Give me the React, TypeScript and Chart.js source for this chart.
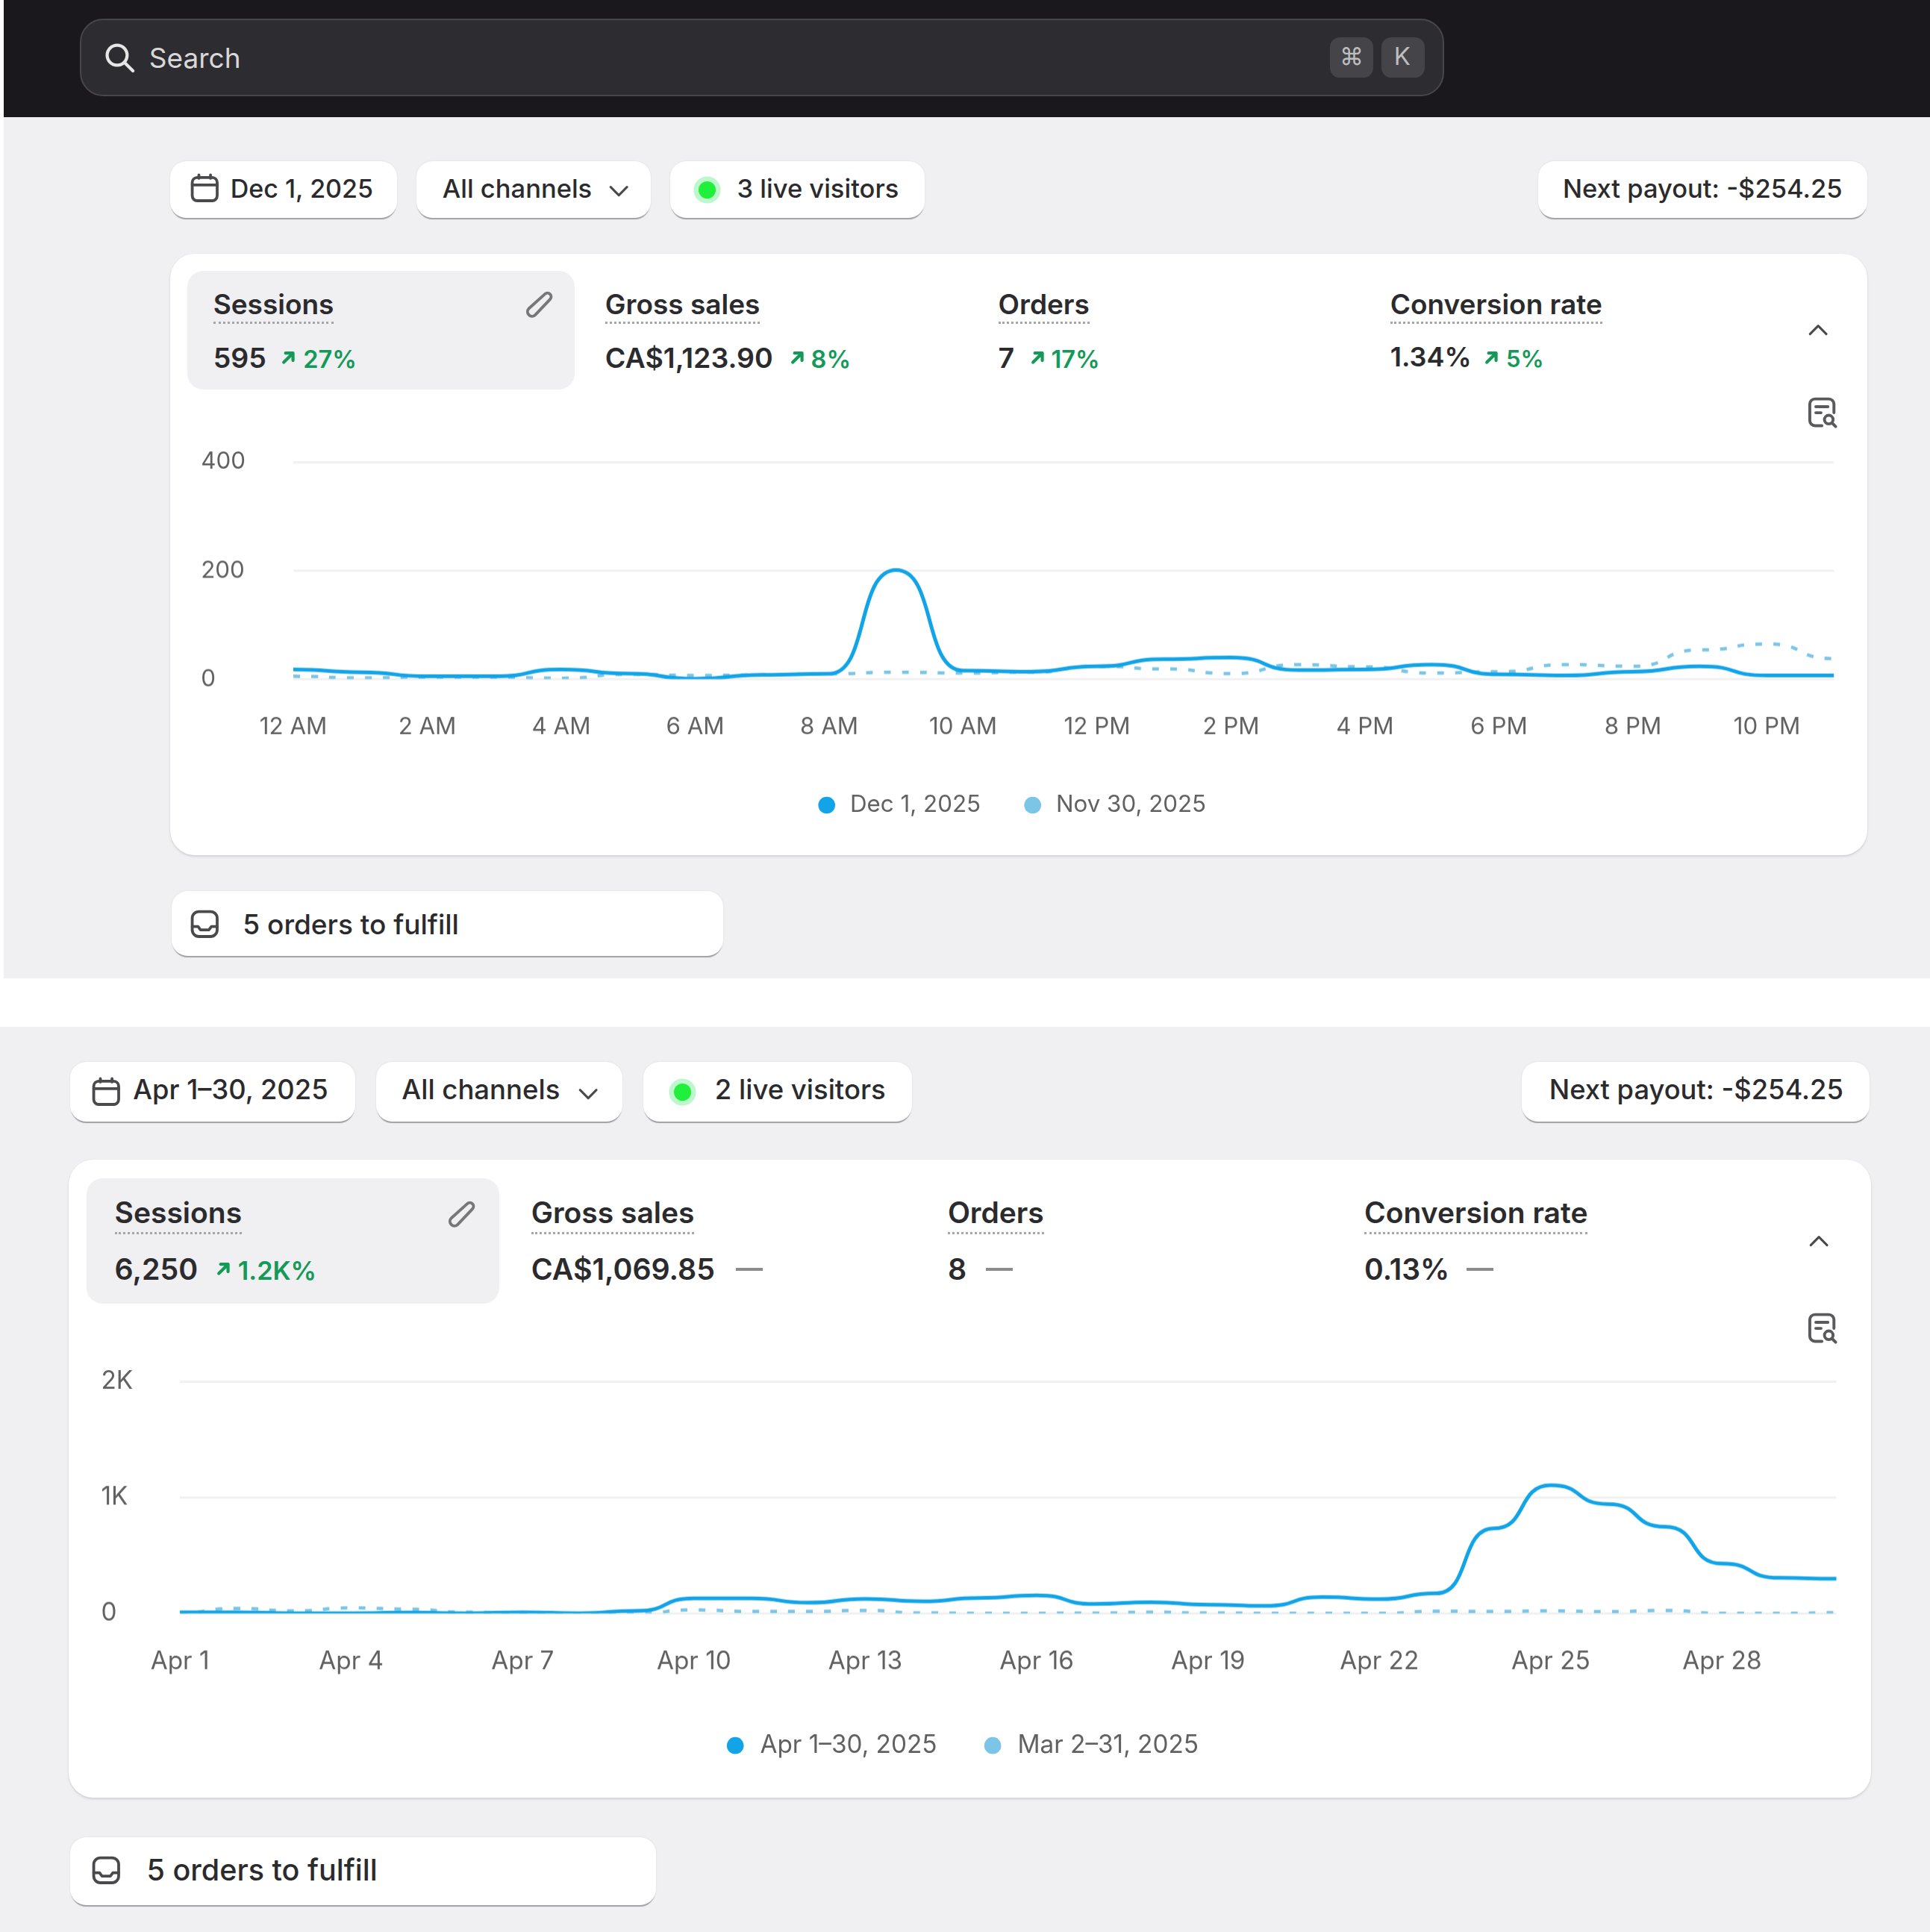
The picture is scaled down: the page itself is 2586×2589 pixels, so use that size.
import { useEffect, useRef } from "react";
import { Chart, registerables } from "chart.js";

Chart.register(...registerables);

// reference was read at 1566px wide, everything below is in those units
const S = 2586 / 1566;
const u = (n: number) => n * S;

const FONT = "Inter, sans-serif";
const BLUE = "#12a4e6";
const LIGHT_BLUE = "#7cc5e6";
const GREEN = "#149a58";
const INK = "#2b2b2e";

const hourLabels = ["12 AM", "1 AM", "2 AM", "3 AM", "4 AM", "5 AM", "6 AM", "7 AM", "8 AM", "9 AM", "10 AM", "11 AM", "12 PM", "1 PM", "2 PM", "3 PM", "4 PM", "5 PM", "6 PM", "7 PM", "8 PM", "9 PM", "10 PM", "11 PM"];
const dec1Sessions = [18, 13, 5.5, 5.5, 18, 10.5, 1, 8, 10, 201, 16, 14, 24, 37, 40, 17, 18, 27, 9, 7, 14, 24, 7, 7];
const nov30Sessions = [5.5, 2.5, 4, 4, 2, 9, 7, 8, 10, 13, 11.5, 13, 24, 19, 10.5, 27, 23, 11.5, 14, 27, 24, 54, 65, 38];

const dayLabels = ["Apr 1", "Apr 2", "Apr 3", "Apr 4", "Apr 5", "Apr 6", "Apr 7", "Apr 8", "Apr 9", "Apr 10", "Apr 11", "Apr 12", "Apr 13", "Apr 14", "Apr 15", "Apr 16", "Apr 17", "Apr 18", "Apr 19", "Apr 20", "Apr 21", "Apr 22", "Apr 23", "Apr 24", "Apr 25", "Apr 26", "Apr 27", "Apr 28", "Apr 29", "Apr 30"];
const aprSessions = [10, 10, 2, 2, 7, 2, 9, 2, 22, 130, 130, 93, 126, 104, 134, 156, 82, 97, 76, 65, 141, 123, 173, 732, 1104, 942, 747, 429, 307, 299];
const marSessions = [8, 43, 22, 48, 37, 11, 3, 1, 0, 30, 17, 17, 26, 4, 2, 2, 3, 11, 4, 2, 1, 1, 19, 17, 22, 15, 26, 1, 1, 6];

// the lines in the reference sit flat on every data point, so level the bezier handles
const flatCurve = {
  id: "flatCurve",
  beforeDatasetDraw(chart: Chart, args: any) {
    const line = args.meta.dataset;
    line.updateControlPoints(chart.chartArea);
    const pts = line.points;
    pts.forEach((pt: any) => {
      const step = (pts[1].x - pts[0].x) * 0.6;
      pt.cp1x = pt.x - step;
      pt.cp2x = pt.x + step;
      pt.cp1y = pt.y;
      pt.cp2y = pt.y;
    });
  },
};

type ChartProps = {
  labels: string[];
  current: number[];
  previous: number[];
  names: [string, string];
  yMax: number;
  yStep: number;
  yFormat: (v: number) => string;
  every: number;
  fontSize: number;
  innerLeft: number;
  innerRight: number;
  plotLeft: number;
  yLabelX: number;
  gridTop: number;
  gridBottom: number;
  xLabelY: number;
  legendY: number;
  legendGap: number;
};

function SessionsChart(p: ChartProps) {
  const canvasRef = useRef<HTMLCanvasElement>(null);
  const side = 8;
  const top = 24;
  const { fontSize } = p;
  const legendTop = u(p.legendY) - p.legendGap - fontSize / 2;
  const canvasTop = u(p.gridTop) - top;
  // chart.js legend height is item + padding + 10
  const canvasBottom = legendTop + p.legendGap + fontSize + 10;

  useEffect(() => {
    if (!canvasRef.current) return;
    const tickFont = { family: FONT, size: fontSize };
    const chart = new Chart(canvasRef.current, {
      type: "line",
      plugins: [flatCurve],
      data: {
        labels: p.labels,
        datasets: [
          {
            label: p.names[0],
            data: p.current,
            borderColor: BLUE,
            backgroundColor: BLUE,
            borderWidth: 5,
            pointRadius: 0,
            cubicInterpolationMode: "monotone",
          },
          {
            label: p.names[1],
            data: p.previous,
            borderColor: LIGHT_BLUE,
            backgroundColor: LIGHT_BLUE,
            borderWidth: 4.5,
            borderDash: [9, 15],
            pointRadius: 0,
            cubicInterpolationMode: "monotone",
          },
        ],
      },
      options: {
        animation: false,
        responsive: true,
        maintainAspectRatio: false,
        layout: { padding: { left: side, right: side, top, bottom: 0 } },
        plugins: {
          tooltip: { enabled: false },
          legend: {
            position: "bottom",
            labels: {
              usePointStyle: true,
              pointStyle: "circle",
              boxWidth: fontSize,
              boxHeight: 16,
              padding: p.legendGap,
              color: "#616161",
              font: tickFont,
              generateLabels: (c: Chart) =>
                Chart.defaults.plugins.legend.labels
                  .generateLabels(c)
                  .map((item) => ({ ...item, lineWidth: 0, lineDash: [] })),
            },
          },
        },
        scales: {
          x: {
            grid: { display: false, drawTicks: false },
            border: { display: false },
            ticks: {
              autoSkip: false,
              maxRotation: 0,
              minRotation: 0,
              padding: u(p.xLabelY) - u(p.gridBottom) - fontSize / 2,
              color: "#616161",
              font: tickFont,
              callback: (_v, i) => (i % p.every === 0 ? p.labels[i] : null),
            },
            afterFit: (scale) => {
              scale.height = legendTop - u(p.gridBottom);
              scale.paddingRight = 0;
              scale.paddingLeft = 0;
            },
          },
          y: {
            min: 0,
            max: p.yMax,
            grid: { color: "#f1f1f2", lineWidth: 3, drawTicks: false },
            border: { display: false },
            ticks: {
              stepSize: p.yStep,
              mirror: true,
              crossAlign: "near",
              padding: u(p.yLabelX) - u(p.plotLeft),
              color: "#616161",
              font: tickFont,
              callback: (v) => p.yFormat(Number(v)),
            },
            afterFit: (scale) => {
              scale.width = u(p.plotLeft) - u(p.innerLeft);
            },
          },
        },
      },
    });
    return () => chart.destroy();
  }, []);

  return (
    <div
      style={{
        position: "absolute",
        left: u(p.innerLeft) - side,
        top: canvasTop,
        width: u(p.innerRight) - u(p.innerLeft) + side * 2,
        height: canvasBottom - canvasTop,
      }}
    >
      <canvas ref={canvasRef} />
    </div>
  );
}

function Box({ x, y, w, h, style, children }: any) {
  return (
    <div style={{ position: "absolute", left: u(x), top: u(y), width: u(w), height: u(h), ...style }}>{children}</div>
  );
}

function Text({ x, cy, size, weight = 400, color = INK, children, style }: any) {
  return (
    <div
      style={{
        position: "absolute",
        left: u(x),
        top: u(cy),
        transform: "translateY(-50%)",
        fontFamily: FONT,
        fontSize: size,
        fontWeight: weight,
        color,
        whiteSpace: "nowrap",
        lineHeight: 1.2,
        ...style,
      }}
    >
      {children}
    </div>
  );
}

function Icon({ cx, cy, size = 24, color = "#4a4a4d", width = 1.7, children }: any) {
  const s = u(size);
  return (
    <svg
      viewBox="0 0 20 20"
      width={s}
      height={s}
      style={{ position: "absolute", left: u(cx) - s / 2, top: u(cy) - s / 2 }}
      fill="none"
      stroke={color}
      strokeWidth={width}
      strokeLinecap="round"
      strokeLinejoin="round"
    >
      {children}
    </svg>
  );
}

const Calendar = (p: any) => (
  <Icon size={27} {...p}>
    <rect x="2.5" y="3.5" width="15" height="14" rx="3" />
    <path d="M2.5 8h15M6.5 2v2M13.5 2v2" />
  </Icon>
);
const Chevron = ({ up, ...p }: any) => (
  <Icon {...p}>
    <path d={up ? "M4 13l6-6 6 6" : "M4 7l6 6 6-6"} />
  </Icon>
);
const Pencil = (p: any) => (
  <Icon color="#77777a" size={28} {...p}>
    <path d="M13 3.5a2 2 0 0 1 3 3L7.5 15.5a2.6 2.6 0 0 1-3.8-3.6z" />
  </Icon>
);
const Inbox = (p: any) => (
  <Icon size={27} {...p}>
    <rect x="2.5" y="2.5" width="15" height="15" rx="4" />
    <path d="M2.5 11.5h3.5l1.5 2h5l1.5-2h3.5" />
  </Icon>
);
const Analyze = (p: any) => (
  <Icon color="#5a5a5d" {...p}>
    <path d="M10 17.5H6a3 3 0 0 1-3-3V5a3 3 0 0 1 3-3h8a3 3 0 0 1 3 3v5" />
    <path d="M6.5 6.5h7M6.5 10h3" />
    <circle cx="14" cy="14" r="2.5" />
    <path d="M16 16l2 2" />
  </Icon>
);
const Arrow = (p: any) => (
  <Icon size={15} color={GREEN} width={3.4} {...p}>
    <path d="M5 15L15 5M7 5h8v8" />
  </Icon>
);

const pillStyle = {
  background: "#fff",
  borderRadius: u(13),
  boxShadow: "0 3px 1px -1px #a2a1a5, 0 0 3px rgba(0,0,0,0.08)",
};

function Pill({ x, y, w, h }: any) {
  return <Box x={x} y={y} w={w} h={h} style={pillStyle} />;
}

function LiveDot({ cx, cy }: any) {
  return (
    <Box
      x={cx - 7}
      y={cy - 7}
      w={14}
      h={14}
      style={{ background: "#1ff03c", borderRadius: "50%", boxShadow: `0 0 0 ${u(4)}px #bdf8cd` }}
    />
  );
}

function Metric({ x, labelY, valueY, lineY, label, value, size, valueSize, trend, arrowX, trendX, dash }: any) {
  return (
    <>
      <Text x={x} cy={labelY} size={size} weight={600}>
        {label}
      </Text>
      <Box
        x={x}
        y={lineY}
        w={0}
        h={0}
        style={{
          width: "auto",
          height: 0,
          borderTop: "3px dotted #a6a6a8",
          color: "transparent",
          fontFamily: FONT,
          fontSize: size,
          fontWeight: 600,
          lineHeight: 0,
          whiteSpace: "nowrap",
          overflow: "hidden",
        }}
      >
        {label}
      </Box>
      <Text x={x} cy={valueY} size={valueSize} weight={600}>
        {value}
      </Text>
      {trend && (
        <>
          <Arrow cx={arrowX} cy={valueY} />
          <Text x={trendX} cy={valueY + 1} size={valueSize - 5} weight={600} color={GREEN}>
            {trend}
          </Text>
        </>
      )}
      {dash && <Box x={dash} y={valueY - 1} w={22} h={2.5} style={{ background: "#8c8c8e" }} />}
    </>
  );
}

const cardStyle = {
  background: "#fff",
  borderRadius: u(20),
  boxShadow: "0 2px 3px rgba(0,0,0,0.12), 0 0 2px rgba(0,0,0,0.06)",
};

export default function App() {
  return (
    <div style={{ position: "absolute", left: 0, top: 0, width: 2586, height: 2589, background: "#fff", overflow: "hidden" }}>
      {/* first screenshot */}
      <Box x={3} y={95} w={1565} h={699} style={{ background: "#f0eff2" }} />
      <Box x={3} y={0} w={1565} h={95} style={{ background: "#1a181c" }} />
      <Box x={65} y={15} w={1107} h={63} style={{ background: "#2d2c30", border: "2px solid #47464b", borderRadius: u(19), boxSizing: "border-box" }} />
      <Icon cx={97} cy={47} size={27} color="#e6e6e6" width={1.9}>
        <circle cx="8.5" cy="8.5" r="6" />
        <path d="M13 13l5 5" />
      </Icon>
      <Text x={121} cy={47} size={37} color="#d8d8d8">Search</Text>
      <Box x={1079} y={30} w={35} h={33} style={{ background: "#454449", borderRadius: u(8) }} />
      <Box x={1121} y={30} w={35} h={33} style={{ background: "#454449", borderRadius: u(8) }} />
      <Text x={1087} cy={46} size={32} color="#bdbdbd">⌘</Text>
      <Text x={1131} cy={46} size={33} color="#bdbdbd">K</Text>

      <Pill x={138} y={131} w={184} h={46} />
      <Pill x={338} y={131} w={190} h={46} />
      <Pill x={544} y={131} w={206} h={46} />
      <Pill x={1248} y={131} w={267} h={46} />
      <Calendar cx={166} cy={153} />
      <Text x={187} cy={153} size={34} weight={500}>Dec 1, 2025</Text>
      <Text x={359} cy={153} size={34.5} weight={500}>All channels</Text>
      <Chevron cx={502} cy={155} size={22} />
      <LiveDot cx={574} cy={154} />
      <Text x={598} cy={153} size={34.5} weight={500}>3 live visitors</Text>
      <Text x={1268} cy={153} size={34.5} weight={500}>Next payout: -$254.25</Text>

      <Box x={138} y={206} w={1377} h={488} style={cardStyle} />
      <Box x={152} y={220} w={314} h={96} style={{ background: "#f0eff2", borderRadius: u(13) }} />
      <Pencil cx={438} cy={248} />
      <Metric x={173} labelY={247} lineY={261} valueY={290} size={37} valueSize={37.5} label="Sessions" value="595" trend="27%" arrowX={234} trendX={246} />
      <Metric x={491} labelY={247} lineY={261} valueY={290} size={37} valueSize={37.5} label="Gross sales" value="CA$1,123.90" trend="8%" arrowX={647} trendX={658} />
      <Metric x={810} labelY={247} lineY={261} valueY={290} size={37} valueSize={37.5} label="Orders" value="7" trend="17%" arrowX={842} trendX={853} />
      <Metric x={1128} labelY={247} lineY={261} valueY={290} size={37} valueSize={36} label="Conversion rate" value="1.34%" trend="5%" arrowX={1210} trendX={1222} />
      <Chevron up cx={1475} cy={268} size={22} />
      <Analyze cx={1478} cy={335} size={28} />

      <SessionsChart
        labels={hourLabels}
        current={dec1Sessions}
        previous={nov30Sessions}
        names={["Dec 1, 2025", "Nov 30, 2025"]}
        yMax={400}
        yStep={200}
        yFormat={(v) => String(v)}
        every={2}
        fontSize={31.3}
        innerLeft={152}
        innerRight={1488}
        plotLeft={238}
        yLabelX={163}
        gridTop={375}
        gridBottom={551}
        xLabelY={588}
        legendY={653}
        legendGap={54}
      />

      <Box x={139} y={723} w={448} h={53} style={pillStyle} />
      <Inbox cx={166} cy={750} />
      <Text x={197} cy={750} size={37} weight={500}>5 orders to fulfill</Text>

      {/* second screenshot */}
      <Box x={0} y={833} w={1568} h={735} style={{ background: "#f0eff2" }} />
      <Pill x={57} y={862} w={231} h={48} />
      <Pill x={305} y={862} w={200} h={48} />
      <Pill x={522} y={862} w={218} h={48} />
      <Pill x={1235} y={862} w={282} h={48} />
      <Calendar cx={86} cy={886} />
      <Text x={108} cy={885} size={36.3} weight={500}>Apr 1–30, 2025</Text>
      <Text x={326} cy={885} size={36.5} weight={500}>All channels</Text>
      <Chevron cx={477} cy={888} size={22} />
      <LiveDot cx={554} cy={886} />
      <Text x={580} cy={885} size={36.5} weight={500}>2 live visitors</Text>
      <Text x={1257} cy={885} size={36.3} weight={500}>Next payout: -$254.25</Text>

      <Box x={56} y={941} w={1462} h={518} style={cardStyle} />
      <Box x={70} y={956} w={335} h={102} style={{ background: "#f0eff2", borderRadius: u(13) }} />
      <Pencil cx={375} cy={986} />
      <Metric x={93} labelY={984} lineY={1000} valueY={1030} size={39} valueSize={39.3} label="Sessions" value="6,250" trend="1.2K%" arrowX={181} trendX={193} />
      <Metric x={431} labelY={984} lineY={1000} valueY={1030} size={39} valueSize={39.3} label="Gross sales" value="CA$1,069.85" dash={597} />
      <Metric x={769} labelY={984} lineY={1000} valueY={1030} size={39} valueSize={39.3} label="Orders" value="8" dash={800} />
      <Metric x={1107} labelY={984} lineY={1000} valueY={1030} size={39} valueSize={39} label="Conversion rate" value="0.13%" dash={1190} />
      <Chevron up cx={1476} cy={1007} size={22} />
      <Analyze cx={1478} cy={1078} size={28} />

      <SessionsChart
        labels={dayLabels}
        current={aprSessions}
        previous={marSessions}
        names={["Apr 1–30, 2025", "Mar 2–31, 2025"]}
        yMax={2000}
        yStep={1000}
        yFormat={(v) => (v === 0 ? "0" : `${v / 1000}K`)}
        every={3}
        fontSize={33.3}
        innerLeft={69}
        innerRight={1490}
        plotLeft={146}
        yLabelX={82}
        gridTop={1121}
        gridBottom={1309}
        xLabelY={1346}
        legendY={1416}
        legendGap={58}
      />

      <Box x={57} y={1491} w={475} h={55} style={pillStyle} />
      <Inbox cx={86} cy={1518} />
      <Text x={119} cy={1518} size={39.5} weight={500}>5 orders to fulfill</Text>
    </div>
  );
}
